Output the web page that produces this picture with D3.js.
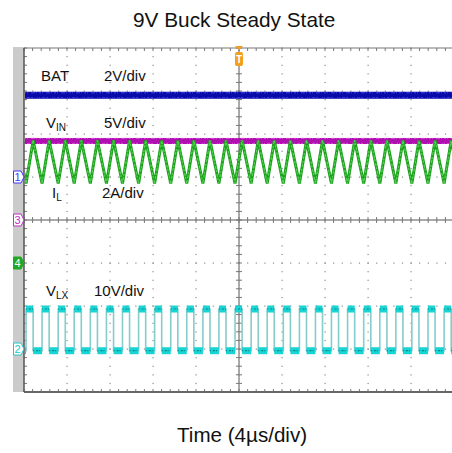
<!DOCTYPE html>
<html>
<head>
<meta charset="utf-8">
<script src="https://cdn.jsdelivr.net/npm/d3@7"></script>
<style>
  body { margin: 0; background: #fff; }
  svg { display: block; font-family: "Liberation Sans", Arial, sans-serif; }
</style>
</head>
<body>
<div id="scope"></div>
<script>
// screen size and scope grid area
const W = 452, H = 453;
const plot = {left: 24, top: 48, right: 454, bottom: 392};

// channel settings: units per division and reference offset (divisions from centre)
const chanNames  = ["BAT", "VIN", "IL", "VLX"];
const chanScale  = [2, 5, 2, 10];
const chanOffset = [1, 0, -1, -3];
const chanMarker = ["1", "3", "4", "2"];
const chanUnits  = ["2V/div", "5V/div", "2A/div", "10V/div"];

// read levels
const batLevel = 3.8;          // V
const vinLevel = 9.2;          // V
const ilValley = 3.7, ilPeak = 5.7;   // A
const vlxHigh = 9.3, vlxLow = -0.4;   // V

// switch node edges, microseconds from trigger
const vlxRise = [-21.31, -19.81, -18.32, -16.82, -15.33, -13.83, -12.33, -10.84, -9.34, -7.85,
                 -6.35, -4.86, -3.36, -1.87, -0.37, 1.13, 2.62, 4.12, 5.62, 7.11,
                 8.60, 10.10, 11.60, 13.10, 14.59, 16.08, 17.58, 19.08, 20.57];
const vlxFall = [-20.65, -19.15, -17.66, -16.16, -14.67, -13.17, -11.67, -10.18, -8.68, -7.19,
                 -5.69, -4.20, -2.70, -1.21, 0.29, 1.79, 3.28, 4.78, 6.28, 7.77,
                 9.26, 10.76, 12.26, 13.76, 15.25, 16.74, 18.24, 19.74, 21.23];

const x = d3.scaleLinear().domain([-20, 20]).range([plot.left, plot.right]);
const yDiv = d3.scaleLinear().domain([-4, 4]).range([plot.bottom, plot.top]);
const chY = i => v => yDiv(chanOffset[i] + v / chanScale[i]);

const svg = d3.select("#scope").append("svg")
  .attr("width", W).attr("height", H);

svg.append("rect").attr("width", W).attr("height", H).attr("fill", "#fff");

// title and time label
svg.append("text").attr("x", 133).attr("y", 27)
  .attr("font-size", "20.8px").attr("fill", "#111").text("9V Buck Steady State");
svg.append("text").attr("x", 177).attr("y", 442)
  .attr("font-size", "20.6px").attr("fill", "#111").text("Time (4\u00b5s/div)");

// left gray strip
svg.append("rect").attr("x", 13).attr("y", 47).attr("width", 11).attr("height", plot.bottom - 47)
  .attr("fill", "#cbcbcb");

const grid = svg.append("g");
const minorX = d3.range(-20, 20.01, 0.8);
const minorY = d3.range(-4, 4.01, 0.2);
const majorX = d3.range(-16, 17, 4).filter(d => d !== 0);
const majorY = d3.range(-3, 4, 1).filter(d => d !== 0);

// dotted grid
majorX.forEach(t => {
  grid.selectAll(null).data(minorY).enter().append("rect")
    .attr("x", x(t) - 0.5).attr("y", d => yDiv(d) - 0.5)
    .attr("width", 1.2).attr("height", 1.2).attr("fill", "#8a8a8a");
});
majorY.forEach(v => {
  grid.selectAll(null).data(minorX).enter().append("rect")
    .attr("x", d => x(d) - 0.5).attr("y", yDiv(v) - 0.5)
    .attr("width", 1.2).attr("height", 1.2).attr("fill", "#8a8a8a");
});

// centre cross with ticks
grid.append("line").attr("x1", x(0)).attr("x2", x(0)).attr("y1", plot.top).attr("y2", plot.bottom)
  .attr("stroke", "#555").attr("stroke-width", 1);
grid.append("line").attr("x1", plot.left).attr("x2", W).attr("y1", yDiv(0)).attr("y2", yDiv(0))
  .attr("stroke", "#555").attr("stroke-width", 1);
grid.selectAll(null).data(minorY).enter().append("line")
  .attr("x1", x(0) - 3).attr("x2", x(0) + 3).attr("y1", d => yDiv(d)).attr("y2", d => yDiv(d))
  .attr("stroke", "#777");
grid.selectAll(null).data(minorX).enter().append("line")
  .attr("y1", yDiv(0) - 3).attr("y2", yDiv(0) + 3).attr("x1", d => x(d)).attr("x2", d => x(d))
  .attr("stroke", "#777");

// border ticks
grid.selectAll(null).data(minorX).enter().append("line")
  .attr("x1", d => x(d)).attr("x2", d => x(d)).attr("y1", plot.top).attr("y2", plot.top + 3)
  .attr("stroke", "#777");
grid.selectAll(null).data(minorX).enter().append("line")
  .attr("x1", d => x(d)).attr("x2", d => x(d)).attr("y1", plot.bottom).attr("y2", plot.bottom - 3)
  .attr("stroke", "#777");
grid.selectAll(null).data(minorY).enter().append("line")
  .attr("x1", plot.left).attr("x2", plot.left + 3).attr("y1", d => yDiv(d)).attr("y2", d => yDiv(d))
  .attr("stroke", "#777");

// border
grid.append("line").attr("x1", plot.left).attr("x2", W).attr("y1", plot.top).attr("y2", plot.top)
  .attr("stroke", "#777").attr("stroke-width", 1);
grid.append("line").attr("x1", plot.left).attr("x2", W).attr("y1", plot.bottom).attr("y2", plot.bottom)
  .attr("stroke", "#666").attr("stroke-width", 2);
grid.append("line").attr("x1", plot.left).attr("x2", plot.left).attr("y1", plot.top).attr("y2", plot.bottom)
  .attr("stroke", "#555").attr("stroke-width", 1.5);

// waveforms
svg.append("clipPath").attr("id", "clip").append("rect")
  .attr("x", plot.left + 1).attr("y", plot.top).attr("width", W).attr("height", plot.bottom - plot.top);
const traces = svg.append("g").attr("clip-path", "url(#clip)");

function flat(i, level, core, light, width) {
  const line = d3.line().x(d => x(d[0])).y(d => chY(i)(d[1]));
  const pts = [[-20, level], [20, level]];
  traces.append("path").attr("d", line(pts)).attr("stroke", core)
    .attr("stroke-width", width).attr("fill", "none");
  traces.append("path").attr("d", line(pts)).attr("stroke", light)
    .attr("stroke-width", 1).attr("stroke-dasharray", "2 1 1 3 4 1 1 2").attr("fill", "none")
    .attr("transform", "translate(0,-2.5)");
  traces.append("path").attr("d", line(pts)).attr("stroke", light)
    .attr("stroke-width", 1).attr("stroke-dasharray", "1 2 3 1 2 4 1 1").attr("fill", "none")
    .attr("transform", "translate(0,2.5)");
}
flat(0, batLevel, "#0a0aa8", "#3a44e8", 7);
flat(1, vinLevel, "#b010b0", "#d84ad8", 6);

// inductor current
const ilPts = [];
vlxRise.forEach((t, k) => { ilPts.push([t, ilValley]); ilPts.push([vlxFall[k], ilPeak]); });
const ilLine = d3.line().x(d => x(d[0])).y(d => chY(2)(d[1]));
traces.append("path").attr("d", ilLine(ilPts)).attr("fill", "none")
  .attr("stroke", "#1f9f1f").attr("stroke-width", 3).attr("stroke-linejoin", "miter");
traces.append("path").attr("d", ilLine(ilPts)).attr("fill", "none")
  .attr("stroke", "#4cd84c").attr("stroke-width", 1.2).attr("stroke-dasharray", "3 1 2 2");

// switch node
const vlxPts = [];
vlxRise.forEach((t, k) => {
  vlxPts.push([t, vlxLow], [t, vlxHigh], [vlxFall[k], vlxHigh], [vlxFall[k], vlxLow]);
});
const vlxLine = d3.line().x(d => x(d[0])).y(d => chY(3)(d[1]));
traces.append("path").attr("d", vlxLine(vlxPts)).attr("fill", "none")
  .attr("stroke", "#86cccc").attr("stroke-width", 1.6);
const segs = [];
vlxRise.forEach((t, k) => {
  segs.push([[t, vlxHigh], [vlxFall[k], vlxHigh]]);
  if (k + 1 < vlxRise.length) segs.push([[vlxFall[k], vlxLow], [vlxRise[k + 1], vlxLow]]);
});
traces.selectAll(null).data(segs).enter().append("path")
  .attr("d", d => vlxLine(d)).attr("fill", "none")
  .attr("stroke", "#18d4d4").attr("stroke-width", 7);
traces.selectAll(null).data(segs).enter().append("path")
  .attr("d", d => vlxLine(d)).attr("fill", "none")
  .attr("stroke", "#0a8888").attr("stroke-width", 1.2).attr("stroke-dasharray", "1 2 2 1 1 3");

// channel markers on the left strip
const markerFill   = ["#fff", "#fff", "#22a822", "#fff"];
const markerStroke = ["#3a3aff", "#c030c0", "#22a822", "#20c8c8"];
const markerText   = ["#3a3aff", "#c030c0", "#fff", "#20c8c8"];
chanMarker.forEach((m, i) => {
  const yy = yDiv(chanOffset[i]);
  const g = svg.append("g").attr("transform", `translate(0,${yy})`);
  g.append("path").attr("d", "M13.5,-6 L21,-6 L24,0 L21,6 L13.5,6 Z")
    .attr("fill", markerFill[i]).attr("stroke", markerStroke[i]).attr("stroke-width", 1);
  g.append("text").attr("x", 17.5).attr("y", 4).attr("text-anchor", "middle")
    .attr("font-size", "11px").attr("fill", markerText[i]).text(m);
});

// trigger marker
const tg = svg.append("g").attr("transform", `translate(${x(0)},0)`);
tg.append("path").attr("d", "M-4,46 L4,46 L0,50 Z").attr("fill", "#f2a01e");
tg.append("rect").attr("x", -4).attr("y", 52).attr("width", 8).attr("height", 14).attr("rx", 2)
  .attr("fill", "#f2a01e");
tg.append("text").attr("x", 0).attr("y", 63).attr("text-anchor", "middle")
  .attr("font-size", "10px").attr("font-weight", "bold").attr("fill", "#fff").text("T");

// channel labels
const labelPos = [[41, 81, 104], [46, 128, 104], [52, 198, 102], [46, 296, 94]];
const labelMain = ["BAT", "V", "I", "V"];
const labelSub  = ["", "IN", "L", "LX"];
chanNames.forEach((n, i) => {
  const p = labelPos[i];
  const t = svg.append("text").attr("x", p[0]).attr("y", p[1])
    .attr("font-size", "15px").attr("fill", "#111");
  t.append("tspan").text(labelMain[i]);
  if (labelSub[i]) t.append("tspan").attr("font-size", "10px").attr("dy", 3).text(labelSub[i]);
  svg.append("text").attr("x", p[2]).attr("y", p[1])
    .attr("font-size", "15px").attr("fill", "#111").text(chanUnits[i]);
});
</script>
</body>
</html>
